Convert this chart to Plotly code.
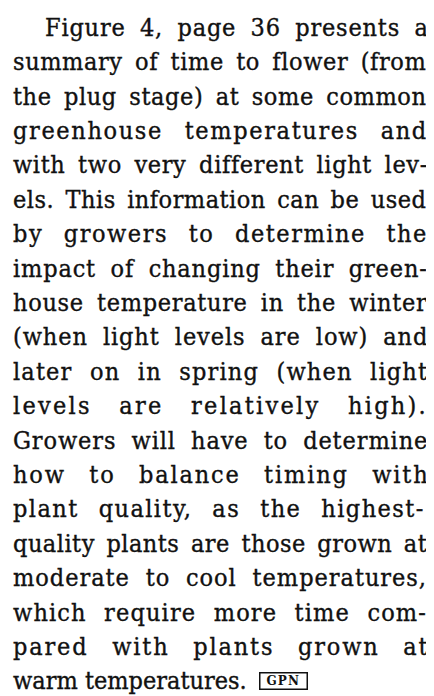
import plotly.graph_objects as go

# ---- content ----
lines = [
    "times, along with plant quality for",
    "Figure 4, page 36 presents a",
    "summary of time to flower (from",
    "the plug stage) at some common",
    "greenhouse temperatures and",
    "with two very different light lev-",
    "els. This information can be used",
    "by growers to determine the",
    "impact of changing their green-",
    "house temperature in the winter",
    "(when light levels are low) and",
    "later on in spring (when light",
    "levels are relatively high).",
    "Growers will have to determine",
    "how to balance timing with",
    "plant quality, as the highest-",
    "quality plants are those grown at",
    "moderate to cool temperatures,",
    "which require more time com-",
    "pared with plants grown at",
    "warm temperatures.",
]
paragraph_start = [False, True] + [False] * 19
badge_label = "GPN"

# ---- layout / style ----
OFF = 8                     # page body margin in the browser
VW, VH = 434, 696           # visible window
FW, FH = VW - OFF, VH - OFF  # figure size
FONT = "DejaVu Serif Condensed, DejaVu Serif"
FS = 25
WSCALE = 0.9                # condensed width factor
LEFT, RIGHT, INDENT = 12.5, 427.5, 32
BASE0, PITCH = 1.6, 34.4
COLOR = "#111111"
SPACE_WEIGHT = 8            # a space absorbs this many letter gaps
STROKE = 0.35

# approximate DejaVu Serif advance widths (units per 2048 em)
ADV = {
    " ": 651, ",": 651, ".": 651, "-": 692, "(": 799, ")": 799,
    "0": 1303, "1": 1303, "2": 1303, "3": 1303, "4": 1303, "5": 1303,
    "6": 1303, "7": 1303, "8": 1303, "9": 1303,
    "F": 1339, "G": 1573, "T": 1407,
    "a": 1221, "b": 1311, "c": 1149, "d": 1311, "e": 1212, "f": 739,
    "g": 1311, "h": 1323, "i": 659, "j": 641, "k": 1243, "l": 659,
    "m": 1983, "n": 1323, "o": 1233, "p": 1311, "q": 1311, "r": 999,
    "s": 1065, "t": 823, "u": 1323, "v": 1188, "w": 1720, "x": 1200,
    "y": 1188, "z": 1094,
}


def natural_width(s, fs=FS):
    return sum(ADV.get(ch, 1250) for ch in s) / 2048.0 * fs * WSCALE


fig = go.Figure()
fig.add_trace(go.Scatter(x=[OFF, VW], y=[OFF, VH], mode="markers",
                         marker=dict(opacity=0), hoverinfo="skip",
                         showlegend=False))

ink = f"stroke:{COLOR};stroke-width:{STROKE}px;"
last = len(lines) - 1
for i, line in enumerate(lines):
    left = LEFT + (INDENT if paragraph_start[i] else 0)
    baseline = BASE0 + PITCH * i
    if i < last:
        extra = (RIGHT - left) - natural_width(line)
        n = len(line)
        nsp = line.count(" ")
        ls = extra / ((n - 1) + SPACE_WEIGHT * nsp)
        ws = ls * SPACE_WEIGHT
        txt = (f'<span style="{ink}letter-spacing:{ls:.2f}px;'
               f'word-spacing:{ws:.2f}px">{line}</span>')
    else:
        txt = f'<span style="{ink}">{line}</span>'
    if i == 0:
        ypos, yanc = OFF + 0.3, "bottom"
    else:
        ypos, yanc = baseline - 0.346 * FS, "middle"
    fig.add_annotation(
        x=left, y=ypos, xref="x", yref="y",
        text=txt, showarrow=False, xanchor="left", yanchor=yanc,
        font=dict(family=FONT, size=FS, color=COLOR),
        borderpad=0, borderwidth=0,
    )

# badge after last line
bx = LEFT + natural_width(lines[last]) + 11
fig.add_annotation(
    x=bx, y=BASE0 + PITCH * last - 9, xref="x", yref="y",
    text=f'<b><span style="letter-spacing:1.2px">&nbsp;{badge_label}&nbsp;</span></b>',
    showarrow=False, xanchor="left", yanchor="middle",
    font=dict(family="DejaVu Serif", size=12, color=COLOR),
    bordercolor=COLOR, borderwidth=1.5, borderpad=0.5, bgcolor="white",
)

fig.update_xaxes(range=[OFF, OFF + FW], visible=False, fixedrange=True)
fig.update_yaxes(range=[OFF + FH, OFF], visible=False, fixedrange=True)
fig.update_layout(
    width=FW, height=FH, margin=dict(l=0, r=0, t=0, b=0),
    paper_bgcolor="white", plot_bgcolor="white", showlegend=False,
)
fig.write_html("out.html", config={"displayModeBar": False})
